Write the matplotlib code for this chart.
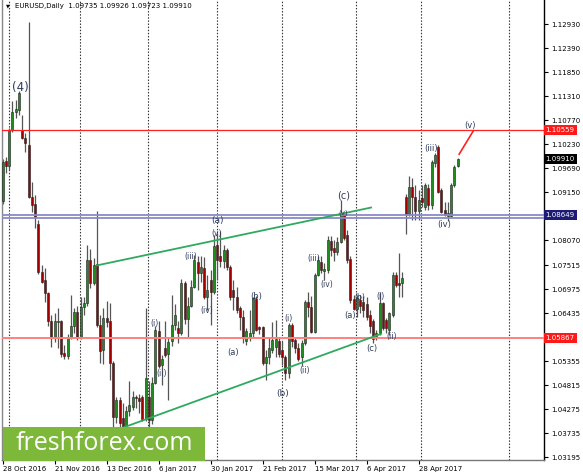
import pandas as pd
import matplotlib
matplotlib.use("Agg")
import matplotlib.pyplot as plt
from matplotlib.patches import Rectangle

# daily bars, 28 Oct 2016 .. 16 May 2017 (broker skips 26 Dec and 2 Jan)
dates = pd.bdate_range("2016-10-28", "2017-05-16", freq="C",
                       holidays=["2016-12-26", "2017-01-02"])

opens = [1.0895, 1.0986, 1.0975, 1.1055, 1.1095, 1.1100, 1.1055, 1.1037, 1.1022, 1.0905,
         1.0889, 1.0845, 1.0737, 1.0718, 1.0689, 1.0625, 1.0589, 1.0624, 1.0627, 1.0553,
         1.0548, 1.0589, 1.0615, 1.0646, 1.0590, 1.0657, 1.0667, 1.0763, 1.0712, 1.0755,
         1.0618, 1.0560, 1.0632, 1.0625, 1.0531, 1.0411, 1.0449, 1.0408, 1.0388, 1.0423,
         1.0432, 1.0455, 1.0452, 1.0455, 1.0406, 1.0455, 1.0403, 1.0487, 1.0603, 1.0527,
         1.0565, 1.0552, 1.0580, 1.0618, 1.0610, 1.0600, 1.0711, 1.0630, 1.0660, 1.0702,
         1.0758, 1.0733, 1.0746, 1.0680, 1.0718, 1.0690, 1.0797, 1.0771, 1.0760, 1.0786,
         1.0748, 1.0696, 1.0680, 1.0655, 1.0635, 1.0582, 1.0590, 1.0599, 1.0676, 1.0613,
         1.0613, 1.0532, 1.0545, 1.0560, 1.0568, 1.0580, 1.0560, 1.0546, 1.0510, 1.0616,
         1.0583, 1.0565, 1.0544, 1.0577, 1.0669, 1.0657, 1.0602, 1.0730, 1.0759, 1.0738,
         1.0741, 1.0806, 1.0790, 1.0781, 1.0804, 1.0866, 1.0819, 1.0766, 1.0675, 1.0653,
         1.0674, 1.0668, 1.0664, 1.0640, 1.0625, 1.0593, 1.0600, 1.0667, 1.0629, 1.0606,
         1.0640, 1.0730, 1.0711, 1.0711, 1.0905, 1.0866, 1.0927, 1.0905, 1.0873, 1.0903,
         1.0883, 1.0925, 1.0887, 1.0981, 1.1018, 1.0921, 1.0876, 1.0862, 1.0862, 1.0932,
         1.09735]
highs = [1.0990, 1.0995, 1.1060, 1.1120, 1.1122, 1.1142, 1.1088, 1.1049, 1.1299, 1.0938,
         1.0909, 1.0852, 1.0752, 1.0745, 1.0692, 1.0640, 1.0645, 1.0655, 1.0629, 1.0572,
         1.0597, 1.0685, 1.0655, 1.0660, 1.0680, 1.0680, 1.0796, 1.0788, 1.0767, 1.0873,
         1.0640, 1.0655, 1.0670, 1.0666, 1.0535, 1.0456, 1.0456, 1.0442, 1.0434, 1.0490,
         1.0468, 1.0460, 1.0462, 1.0460, 1.0655, 1.0490, 1.0500, 1.0615, 1.0625, 1.0550,
         1.0625, 1.0590, 1.0685, 1.0665, 1.0625, 1.0720, 1.0716, 1.0680, 1.0718, 1.0775,
         1.0771, 1.0773, 1.0770, 1.0730, 1.0741, 1.0820, 1.0823, 1.0829, 1.0797, 1.0790,
         1.0752, 1.0718, 1.0703, 1.0660, 1.0651, 1.0610, 1.0650, 1.0679, 1.0681, 1.0615,
         1.0615, 1.0560, 1.0590, 1.0624, 1.0628, 1.0591, 1.0580, 1.0550, 1.0621, 1.0621,
         1.0591, 1.0577, 1.0584, 1.0673, 1.0692, 1.0681, 1.0733, 1.0771, 1.0771, 1.0756,
         1.0816, 1.0816, 1.0808, 1.0815, 1.0898, 1.0872, 1.0831, 1.0771, 1.0685, 1.0685,
         1.0685, 1.0681, 1.0680, 1.0650, 1.0630, 1.0605, 1.0690, 1.0669, 1.0633, 1.0646,
         1.0736, 1.0736, 1.0779, 1.0736, 1.0911, 1.0951, 1.0948, 1.0932, 1.0921, 1.0932,
         1.0936, 1.0935, 1.0988, 1.1003, 1.1022, 1.0925, 1.0894, 1.0894, 1.0936, 1.0977,
         1.09926]
lows = [1.0888, 1.0958, 1.0965, 1.1050, 1.1082, 1.1090, 1.1035, 1.1006, 1.0903, 1.0871,
        1.0836, 1.0731, 1.0712, 1.0669, 1.0614, 1.0568, 1.0578, 1.0566, 1.0545, 1.0540,
        1.0540, 1.0585, 1.0600, 1.0583, 1.0585, 1.0640, 1.0660, 1.0700, 1.0707, 1.0612,
        1.0531, 1.0530, 1.0612, 1.0493, 1.0388, 1.0396, 1.0388, 1.0355, 1.0370, 1.0412,
        1.0426, 1.0430, 1.0420, 1.0400, 1.0400, 1.0340, 1.0395, 1.0485, 1.0520, 1.0483,
        1.0545, 1.0448, 1.0570, 1.0605, 1.0576, 1.0595, 1.0620, 1.0590, 1.0658, 1.0700,
        1.0696, 1.0713, 1.0675, 1.0651, 1.0617, 1.0686, 1.0718, 1.0748, 1.0745, 1.0741,
        1.0673, 1.0651, 1.0644, 1.0606, 1.0576, 1.0572, 1.0580, 1.0590, 1.0603, 1.0596,
        1.0527, 1.0493, 1.0530, 1.0555, 1.0546, 1.0546, 1.0527, 1.0494, 1.0498, 1.0568,
        1.0553, 1.0535, 1.0524, 1.0572, 1.0636, 1.0599, 1.0599, 1.0726, 1.0733, 1.0718,
        1.0733, 1.0771, 1.0760, 1.0775, 1.0801, 1.0808, 1.0756, 1.0666, 1.0651, 1.0636,
        1.0644, 1.0636, 1.0628, 1.0600, 1.0577, 1.0583, 1.0595, 1.0606, 1.0600, 1.0595,
        1.0635, 1.0703, 1.0680, 1.0680, 1.0822, 1.0862, 1.0853, 1.0853, 1.0853, 1.0883,
        1.0876, 1.0876, 1.0878, 1.0973, 1.0913, 1.0868, 1.0861, 1.0850, 1.0859, 1.0928,
        1.09723]
closes = [1.0984, 1.0975, 1.1055, 1.1095, 1.1103, 1.1138, 1.1037, 1.1026, 1.0905, 1.0887,
          1.0860, 1.0735, 1.0714, 1.0689, 1.0625, 1.0589, 1.0627, 1.0627, 1.0552, 1.0548,
          1.0589, 1.0615, 1.0646, 1.0590, 1.0657, 1.0667, 1.0763, 1.0712, 1.0752, 1.0618,
          1.0558, 1.0632, 1.0623, 1.0531, 1.0411, 1.0449, 1.0397, 1.0388, 1.0423, 1.0438,
          1.0455, 1.0452, 1.0447, 1.0406, 1.0497, 1.0403, 1.0487, 1.0606, 1.0525, 1.0540,
          1.0550, 1.0578, 1.0618, 1.0640, 1.0600, 1.0711, 1.0630, 1.0660, 1.0702, 1.0762,
          1.0733, 1.0748, 1.0680, 1.0696, 1.0690, 1.0795, 1.0763, 1.0760, 1.0786, 1.0748,
          1.0680, 1.0680, 1.0651, 1.0635, 1.0590, 1.0604, 1.0600, 1.0678, 1.0606, 1.0608,
          1.0532, 1.0545, 1.0565, 1.0583, 1.0585, 1.0551, 1.0546, 1.0510, 1.0618, 1.0580,
          1.0565, 1.0540, 1.0577, 1.0669, 1.0657, 1.0602, 1.0730, 1.0763, 1.0741, 1.0743,
          1.0808, 1.0786, 1.0781, 1.0804, 1.0868, 1.0812, 1.0763, 1.0673, 1.0653, 1.0677,
          1.0660, 1.0651, 1.0635, 1.0615, 1.0585, 1.0600, 1.0667, 1.0611, 1.0611, 1.0644,
          1.0730, 1.0707, 1.0707, 1.0722, 1.0866, 1.0927, 1.0905, 1.0873, 1.0898, 1.0894,
          1.0932, 1.0887, 1.0984, 1.0999, 1.0917, 1.0872, 1.0865, 1.0868, 1.0932, 1.0973,
          1.09910]

price_ticks = [1.12930, 1.12390, 1.11850, 1.11310, 1.10770, 1.10230, 1.09690, 1.09150,
               1.08070, 1.07515, 1.06975, 1.06435, 1.05355, 1.04815, 1.04275, 1.03735, 1.03195]

# horizontal levels
resistance = 1.10559
support = 1.05867
pivot = 1.08649
pivot2 = 1.08580
last_price = 1.09910

# channel lines (bar index, price)
upper_channel = [(29.1, 1.0751), (113.4, 1.0881)]
lower_channel = [(35.5, 1.0382), (116.5, 1.0597)]
target_line = [(140.5, 1.1001), (144.9, 1.1054)]

# wave labels: bar index, price, text, size
wave_labels = [
    (5.4, 1.1150, "(4)", 8.5),
    (46.8, 1.0621, "(i)", 5.5), (49.1, 1.0507, "(ii)", 5.5),
    (58.0, 1.0770, "(iii)", 5.5), (62.9, 1.0649, "(iv)", 5.5),
    (66.0, 1.0822, "(v)", 5.5), (66.0, 1.0851, "(a)", 6.5),
    (70.9, 1.0556, "(a)", 6), (78.0, 1.0682, "(b)", 6),
    (86.3, 1.0464, "(b)", 6.5),
    (87.9, 1.0632, "(i)", 5.5), (92.9, 1.0514, "(ii)", 5.5),
    (95.9, 1.0767, "(iii)", 5.5), (99.8, 1.0709, "(iv)", 5.5),
    (104.9, 1.0907, "(c)", 7), (104.9, 1.0870, "(v)", 5),
    (106.9, 1.0639, "(a)", 6), (110.0, 1.0679, "(b)", 5.5),
    (113.7, 1.0563, "(c)", 6),
    (116.2, 1.0680, "(i)", 5.5), (119.8, 1.0591, "(ii)", 5.5),
    (131.8, 1.1014, "(iii)", 6), (135.9, 1.0843, "(iv)", 6),
    (143.8, 1.1065, "(v)", 6),
]

W, H = 583, 475
fig = plt.figure(figsize=(W / 100, H / 100), dpi=100)
ax = fig.add_axes([1.5 / W, 15 / H, 542.5 / W, 460 / H])

n = len(closes)
idx = list(range(n))
bull = "#1e8c1e"
bear = "#a00000"

# wicks
ax.vlines(idx, lows, highs, color="#555555", lw=0.9, zorder=2)
# bodies
bottoms = [min(o, c) for o, c in zip(opens, closes)]
heights = [max(abs(c - o), 0.00006) for o, c in zip(opens, closes)]
colors = [bull if c >= o else bear for o, c in zip(opens, closes)]
ax.bar(idx, heights, bottom=bottoms, width=0.62, color=colors,
       edgecolor="#222222", linewidth=0.4, zorder=3)

ax.set_xlim(-0.31, 166.6)
ax.set_ylim(1.03134, 1.13476)

# month grid (dotted verticals)
month_starts = [i for i in range(1, n) if dates[i].month != dates[i - 1].month]
for m in month_starts + [155.8]:
    ax.axvline(m - 0.1, color="#333333", lw=0.8, ls=(0, (1.3, 1.5)), zorder=1)

# horizontal levels
ax.axhline(resistance, color="#ff2020", lw=0.9, zorder=4)
ax.axhline(support, color="#ff8080", lw=1.4, zorder=4)
ax.axhline(pivot, color="#8a8ac8", lw=1.3, zorder=4)
ax.axhline(pivot2, color="#8a8ac8", lw=1.3, zorder=4)

# channels and target
for line, col in [(upper_channel, "#2eaa5e"), (lower_channel, "#2eaa5e")]:
    ax.plot([p[0] for p in line], [p[1] for p in line], color=col, lw=1.3, zorder=5)
ax.plot([p[0] for p in target_line], [p[1] for p in target_line], color="#ff2020", lw=1.2, zorder=5)

for x, y, t, s in wave_labels:
    ax.text(x, y, t, fontsize=s, color="#2e3b5c", ha="center", va="center", zorder=6)

# axes styling
for side in ["top"]:
    ax.spines[side].set_visible(False)
ax.spines["left"].set_color("#888888")
ax.spines["bottom"].set_color("#777777")
ax.spines["right"].set_color("black")
ax.spines["bottom"].set_linewidth(1.0)
ax.spines["right"].set_linewidth(1.0)

ax.yaxis.tick_right()
ax.set_yticks(price_ticks)
ax.set_yticklabels([f"{p:.5f}" for p in price_ticks])
ax.tick_params(axis="y", length=3, width=0.8, pad=2, labelsize=5, colors="black")

tick_idx = list(range(0, 129, 16))
ax.set_xticks(tick_idx)
ax.set_xticklabels([f"{dates[i].day} {dates[i].strftime('%b %Y')}" for i in tick_idx],
                   ha="left")
ax.tick_params(axis="x", length=3, width=0.8, pad=1.5, labelsize=5, colors="black")
ax.spines["left"].set_linewidth(1.0)

# price boxes on the right scale
tr = ax.get_yaxis_transform()
for val, col in [(resistance, "#ff1a1a"), (last_price, "black"),
                 (pivot, "#1c1c78"), (support, "#ff1a1a")]:
    ax.text(1.003, val, f"{val:.5f}", transform=tr, ha="left", va="center",
            fontsize=5, color="white", zorder=7, clip_on=False,
            bbox=dict(boxstyle="square,pad=0.28", fc=col, ec="none"))

# title line
fig.text(6 / W, 1 - 6 / H, "\u25bc", fontsize=3.5, color="black", ha="left", va="center")
fig.text(15 / W, 1 - 6 / H, "EURUSD,Daily  1.09735 1.09926 1.09723 1.09910",
         fontsize=5, color="black", ha="left", va="center")

# watermark
fig.add_artist(Rectangle((3 / W, (H - 461) / H), 202 / W, 34 / H,
                         transform=fig.transFigure, fc="#7db83b", ec="none", zorder=10))
fig.text(104 / W, (H - 443) / H, "freshforex.com", fontsize=18, color="white",
         family="Open Sans", ha="center", va="center", zorder=11)

fig.savefig("out.png", dpi=100)
